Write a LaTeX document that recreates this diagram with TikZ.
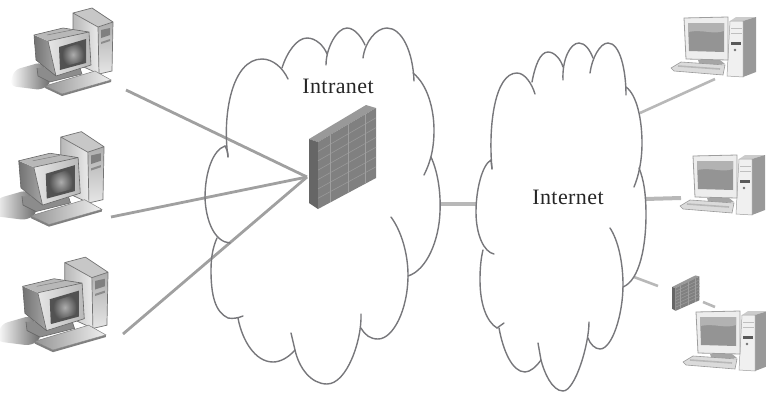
\documentclass[tikz,border=0pt]{standalone}
\usepackage{fontspec}
\setmainfont{Liberation Serif}
\newfontfamily\labelfont[LetterSpace=2]{Liberation Serif}
\usetikzlibrary{shadings}
\definecolor{cloudc}{HTML}{77777B}
\definecolor{wirec}{HTML}{A0A0A0}
\definecolor{wirel}{HTML}{B8B8B8}
\tikzset{
  cloudline/.style={draw=cloudc,line width=1.4pt,line cap=round},
  wire/.style={draw=wirec,line width=2.8pt},
  wirelight/.style={draw=wirel,line width=2.6pt},
  wirethick/.style={draw=wirel,line width=4pt},
  cloudlabel/.style={font=\labelfont\fontsize{22}{26}\selectfont,text=black!85,inner sep=0pt},
  fw/.pic={
    \fill[fill=black!40] (0,0)--(57,-34)--(67,-31)--(9,3)--cycle;
    \fill[fill=black!60] (0,0)--(9,3)--(9,70)--(0,64)--cycle;
    \fill[fill=black!50] (9,3)--(67,-31)--(67,39)--(9,70)--cycle;
    \foreach \f in {.14,.28,.42,.56,.70,.84}
      \draw[black!40,line width=.6pt] (9,{3+67*\f}) -- (67,{-31+70*\f});
    \foreach \f in {.21,.52,.81}
      \draw[black!38,line width=.7pt] ({9+58*\f},{3-34*\f}) -- ({9+58*\f},{70-31*\f});
  },
  leftpc/.pic={
    % shadow
    \shade[left color=white,right color=black!60,rounded corners=6pt] (10,86)--(14,70)--(42,62)--(52,82)--(42,90)--cycle;
    % tower
    \fill[black!22] (73,13)--(92,8)--(113,22)--(98,27)--cycle;
    \shade[left color=black!28,right color=black!8] (73,13)--(98,27)--(99,74)--(73,62)--cycle;
    \shade[top color=black!32,bottom color=black!10] (98,27)--(113,22)--(112,71)--(99,74)--cycle;
    \draw[black!55,line width=.7pt] (73,13)--(92,8)--(113,22)--(112,71)--(99,74)--(73,62)--cycle (73,13)--(98,27)--(99,74) (98,27)--(113,22);
    \fill[black!50] (101,30)--(110,28)--(110,35)--(101,38)--cycle;
    \fill[black!45] (101,42)--(110,39)--(110,41)--(101,44)--cycle;
    % base
    \fill[black!45] (37,68)--(38,76)--(50,82)--(82,74)--(80,68)--cycle;
    \draw[black!60,line width=.6pt] (37,68)--(38,76)--(50,82)--(82,74)--(80,68);
    % monitor
    \shade[left color=black!55,right color=black!35] (34,35)--(48,41)--(56,76)--(36,60)--cycle;
    \fill[black!28] (34,35)--(63,28)--(89,32)--(48,41)--cycle;
    \draw[black!50,line width=.5pt] (47,35)--(72,30);
    \shade[left color=black!10,right color=black!28] (48,41)--(89,32)--(91,65)--(56,76)--cycle;
    \draw[black!60,line width=.6pt] (34,35)--(63,28)--(89,32)--(91,65)--(56,76)--(36,60)--cycle (48,41)--(89,32) (48,41)--(56,76);
    \fill[black!68] (59,47)--(86,39)--(86,63)--(60,70)--cycle;
    \shade[inner color=black!32,outer color=black!68] (62,49)--(84,42)--(84,61)--(62,67)--cycle;
    % keyboard
    \fill[black!50] (45,86)--(62,94)--(111,80)--(111,82)--(62,96)--(45,88)--cycle;
    \shade[left color=black!42,right color=black!6] (45,86)--(95,71)--(111,80)--(62,94)--cycle;
    \draw[black!50,line width=.5pt] (45,86)--(95,71)--(111,80)--(62,94)--cycle;
  },
  rightpc/.pic={
    % tower
    \fill[black!20] (732,21)--(738,17)--(758,17)--(745,21)--cycle;
    \fill[black!40] (745,21)--(758,17)--(758,72)--(745,77)--cycle;
    \fill[black!6] (732,21)--(745,21)--(745,77)--(729,76)--cycle;
    \draw[black!38,line width=.5pt] (732,21)--(745,21)--(745,77)--(729,76)--cycle;
    \draw[black!25,line width=.4pt] (733,28)--(744,28) (733,33)--(744,33);
    \fill[black!65] (733,42)--(743,42)--(743,45)--(733,45)--cycle;
    \fill[black!55] (737,50) circle (1.4);
    % stand
    \fill[black!35] (700,60)--(722,60)--(727,64)--(702,66)--cycle;
    % monitor
    \fill[black!7] (686,18)--(730,17)--(730,60)--(688,59)--cycle;
    \draw[black!38,line width=.8pt] (686,18)--(730,17)--(730,60)--(688,59)--cycle;
    \fill[black!42] (690,23)--(726,23)--(726,52)--(691,51)--cycle;
    \fill[black!30] (690,23)--(726,23)--(726,31) .. controls (715,35) and (705,29) .. (690,32)--cycle;
    % keyboard
    \fill[black!14] (673,68)--(683,62)--(727,65)--(725,75)--(676,71)--cycle;
    \draw[black!40,line width=.6pt] (673,68)--(683,62)--(727,65)--(725,75)--(676,71)--cycle;
    \draw[black!28,line width=1.6pt] (680,66)--(722,69);
  }
}
\begin{document}
\begin{tikzpicture}[x=1pt,y=-1pt]
\useasboundingbox (0,0) rectangle (766,394);
\clip (0,0) rectangle (766,394);
% PCs
\pic at (0,0) {leftpc};
\pic[shift={(-18,123)},scale=1.08] at (0,0) {leftpc};
\pic[shift={(-14,248.5)},scale=1.08] at (0,0) {leftpc};
\pic[shift={(-2,0)}] at (0,0) {rightpc};
\pic[shift={(7,138)}] at (0,0) {rightpc};
\pic[shift={(10,294)}] at (0,0) {rightpc};
% connector ends
\coordinate (hub) at (307,177);
\coordinate (pcA) at (126,90);
\coordinate (pcB) at (111,217);
\coordinate (pcC) at (123,334);
\coordinate (gapL) at (440,204);
\coordinate (gapR) at (477,204);
\coordinate (netA) at (640,113);
\coordinate (pcD) at (715,79);
\coordinate (netB) at (645,199);
\coordinate (pcE) at (681,198);
\coordinate (netC) at (634,277);
\coordinate (fwS) at (658,286);
\coordinate (fwE) at (703,302);
\coordinate (pcF) at (715,307);
% connectors
\draw[wire] (pcA) -- (hub);
\draw[wire] (pcB) -- (hub);
\draw[wire] (pcC) -- (hub);
\draw[wirethick] (gapL) -- (gapR);
\draw[wirelight] (netA) -- (pcD);
\draw[wirethick] (netB) -- (pcE);
\draw[wirelight] (netC) -- (fwS);
\draw[wirelight] (fwE) -- (pcF);
% Intranet cloud
\draw[cloudline] (228,157) .. controls (222,115) and (232,59) .. (262,59) .. controls (273,59) and (283,68) .. (288,79);
\draw[cloudline] (282,68) .. controls (287,52) and (297,38) .. (307,38) .. controls (316,38) and (324,46) .. (327,54);
\draw[cloudline] (326,65) .. controls (326,48) and (337,28) .. (347,28) .. controls (355,28) and (362,38) .. (365,45);
\draw[cloudline] (363,58) .. controls (365,42) and (376,28) .. (387,28) .. controls (402,28) and (413,52) .. (414,81);
\draw[cloudline] (413,73) .. controls (428,85) and (434,110) .. (434,130) .. controls (434,150) and (430,163) .. (424,175);
\draw[cloudline] (431,157) .. controls (437,170) and (441,190) .. (440,212) .. controls (439,240) and (427,270) .. (408,276);
\draw[cloudline] (391,217) .. controls (402,232) and (408,255) .. (408,275) .. controls (408,310) and (393,339) .. (378,339) .. controls (370,339) and (365,335) .. (361,328);
\draw[cloudline] (361,314) .. controls (362,340) and (347,384) .. (327,384) .. controls (311,384) and (299,368) .. (295,350) -- (291,333);
\draw[cloudline] (295,350) .. controls (288,358) and (280,362) .. (273,362) .. controls (255,362) and (242,340) .. (238,318);
\draw[cloudline] (243,316) .. controls (238,318) and (233,319) .. (228,318) .. controls (215,312) and (211,295) .. (211,270) .. controls (211,257) and (213,247) .. (217,238);
\draw[cloudline] (230,243) .. controls (215,242) and (206,222) .. (205,198) .. controls (205,172) and (213,150) .. (225,146) .. controls (227,150) and (228,152) .. (228,157);
% Internet cloud
\draw[cloudline] (492,169) .. controls (488,125) and (495,73) .. (517,73) .. controls (525,73) and (532,84) .. (535,94);
\draw[cloudline] (532,82) .. controls (535,66) and (540,52) .. (548,52) .. controls (555,52) and (561,60) .. (563,67);
\draw[cloudline] (563,80) .. controls (562,60) and (570,43) .. (579,43) .. controls (585,43) and (590,50) .. (593,58);
\draw[cloudline] (590,73) .. controls (592,58) and (600,43) .. (608,43) .. controls (620,43) and (626,70) .. (626,95);
\draw[cloudline] (626,87) .. controls (637,95) and (642,120) .. (642,143) .. controls (642,160) and (639,175) .. (634,187);
\draw[cloudline] (639,168) .. controls (644,180) and (646,195) .. (646,215) .. controls (646,245) and (640,280) .. (623,287);
\draw[cloudline] (610,228) .. controls (618,240) and (623,262) .. (623,285) .. controls (623,315) and (612,349) .. (600,349) .. controls (595,349) and (590,344) .. (588,338);
\draw[cloudline] (589,322) .. controls (589,345) and (575,391) .. (563,391) .. controls (552,391) and (544,372) .. (541,360) -- (538,343);
\draw[cloudline] (541,360) .. controls (536,367) and (530,372) .. (525,372) .. controls (512,372) and (503,350) .. (499,328);
\draw[cloudline] (504,323) -- (497,328) .. controls (487,322) and (480,305) .. (480,280) .. controls (480,268) and (481,258) .. (483,250);
\draw[cloudline] (494,254) .. controls (484,252) and (476,235) .. (476,212) .. controls (476,190) and (482,165) .. (491,160) -- (492,169);
% firewalls
\pic at (309,139) {fw};
\pic[xscale=.41,yscale=.34] at (672,287) {fw};
% labels
\node[cloudlabel] (intra) at (338,86.5) {Intranet};
\node[cloudlabel] (inter) at (568,197) {Internet};
\end{tikzpicture}
\end{document}
